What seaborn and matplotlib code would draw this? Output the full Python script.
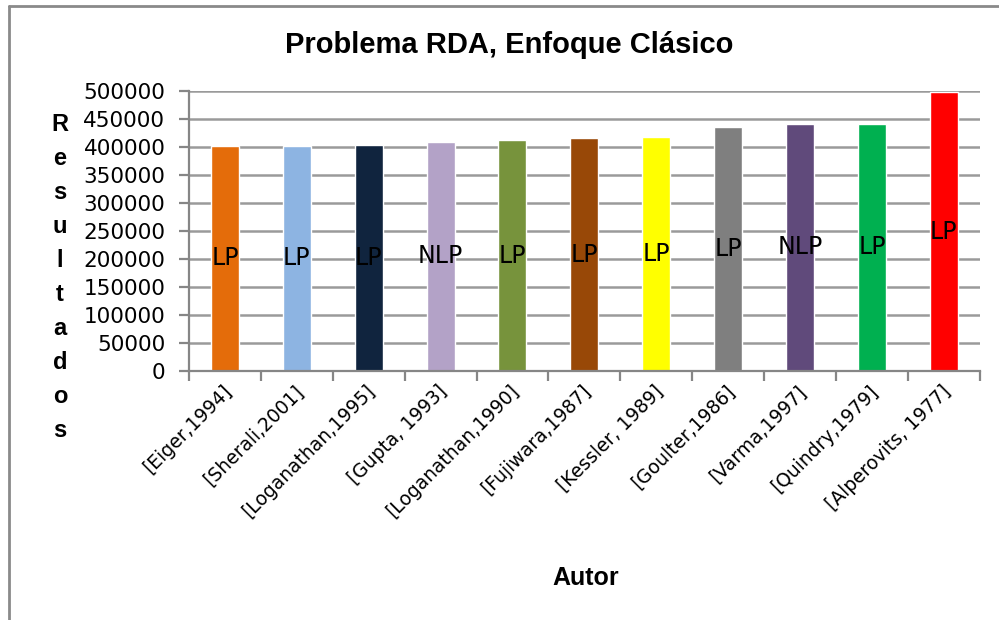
import matplotlib
matplotlib.use("Agg")
import matplotlib.pyplot as plt
from matplotlib.lines import Line2D
from matplotlib.transforms import ScaledTranslation
import seaborn as sns
import pandas as pd

# Authors and best-known cost results for the RDA network (classic approach)
autores = ["[Eiger,1994]", "[Sherali,2001]", "[Loganathan,1995]", "[Gupta, 1993]",
           "[Loganathan,1990]", "[Fujiwara,1987]", "[Kessler, 1989]", "[Goulter,1986]",
           "[Varma,1997]", "[Quindry,1979]", "[Alperovits, 1977]"]
resultados = [402352, 401872, 403657, 409111, 412358, 415271, 417500, 435015,
              441738, 441817, 497525]
metodo = ["LP", "LP", "LP", "NLP", "LP", "LP", "LP", "LP", "NLP", "LP", "LP"]
colores = ["#E46C0A", "#8DB4E2", "#10243E", "#B3A2C7", "#77933C", "#984807",
           "#FFFF00", "#7F7F7F", "#604A7B", "#00B050", "#FF0000"]
yticks = [0, 50000, 100000, 150000, 200000, 250000, 300000, 350000, 400000,
          450000, 500000]

df = pd.DataFrame({"Autor": autores, "Resultados": resultados, "Metodo": metodo})

sns.set_theme(style="white")
plt.rcParams["font.family"] = ["DejaVu Sans"]
plt.rcParams["text.color"] = "black"
plt.rcParams["xtick.color"] = "black"
plt.rcParams["ytick.color"] = "black"

fig = plt.figure(figsize=(9.99, 6.2), dpi=100)
ax = fig.add_axes([0.1892, 0.4016, 0.7915, 0.4516])

sns.barplot(data=df, x="Autor", y="Resultados", hue="Autor", palette=colores,
            dodge=False, width=0.39, legend=False, saturation=1, ax=ax)

grid_c = "#9a9a9a"
axis_c = "#868686"
ax.set_ylim(0, 500000)
ax.set_xlim(-0.5, len(autores) - 0.5)
ax.set_yticks(yticks)
ax.set_yticklabels([str(v) for v in yticks], fontsize=15.5, color="black")
ax.yaxis.grid(True, color=grid_c, linewidth=1.8)
ax.set_axisbelow(True)

for side in ["top", "right"]:
    ax.spines[side].set_visible(False)
for side in ["left", "bottom"]:
    ax.spines[side].set_color(axis_c)
    ax.spines[side].set_linewidth(1.6)

ax.tick_params(axis="y", left=True, length=7, width=1.6, color=axis_c,
               labelcolor="black", pad=10)

# category ticks fall on the boundaries between bars
ax.set_xticks(range(len(autores)))
ax.set_xticklabels(autores, rotation=45, ha="right", va="top",
                   rotation_mode="anchor", fontsize=13.5, color="black")
ax.tick_params(axis="x", bottom=False, pad=1.5, labelcolor="black")
ax.set_xticks([i - 0.5 for i in range(len(autores) + 1)], minor=True)
ax.tick_params(axis="x", which="minor", bottom=True, length=7, width=1.6,
               color=axis_c)
for lbl in ax.get_xticklabels():
    lbl.set_transform(lbl.get_transform() +
                      ScaledTranslation(-0.03, 0, fig.dpi_scale_trans))

# method labels centred in each bar
for i, (v, m) in enumerate(zip(resultados, metodo)):
    ax.text(i, v / 2, m, ha="center", va="center", fontsize=17, color="black")

ax.set_xlabel("")
ax.set_ylabel("")

fig.text(0.51, 0.927, "Problema RDA, Enfoque Clásico", ha="center", va="center",
         fontsize=21, fontweight="bold", family=["Liberation Sans"], color="black")
fig.text(0.586, 0.068, "Autor", ha="center", va="center", fontsize=18,
         fontweight="bold", family=["Liberation Sans"], color="black")
fig.text(0.06, 0.553, "\n".join("Resultados"), ha="center", va="center",
         fontsize=17, fontweight="bold", family=["Liberation Sans"],
         linespacing=1.61, color="black")

# chart area border (left and top edges)
fig.add_artist(Line2D([0.009, 0.009], [0.0, 0.991], color="#8a8a8a",
                      linewidth=2, transform=fig.transFigure))
fig.add_artist(Line2D([0.009, 1.0], [0.991, 0.991], color="#8a8a8a",
                      linewidth=2, transform=fig.transFigure))

fig.savefig("out.png", dpi=100)
